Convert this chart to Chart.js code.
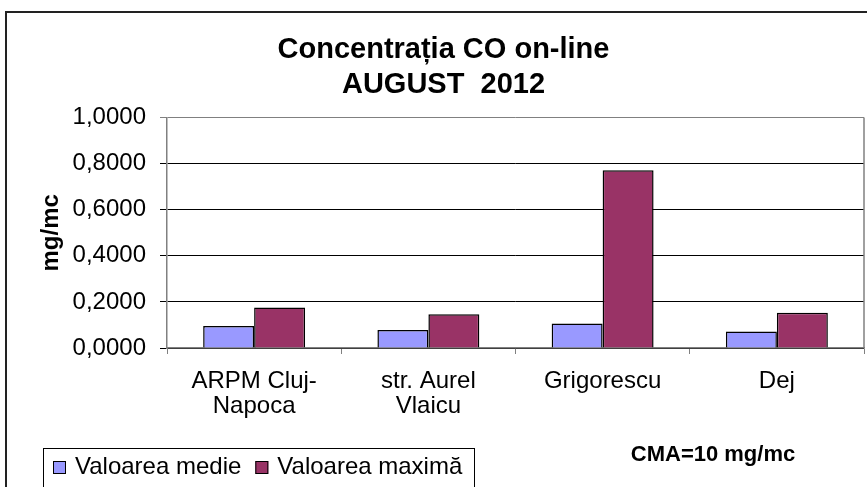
<!DOCTYPE html>
<html>
<head>
<meta charset="utf-8">
<script src="https://cdn.jsdelivr.net/npm/chart.js@4.4.1/dist/chart.umd.min.js"></script>
<style>
  html, body { margin: 0; padding: 0; background: #fff; }
  #wrap { width: 867px; height: 487px; }
</style>
</head>
<body>
<div id="wrap"><canvas id="graficCO" width="867" height="487"></canvas></div>
<script>
// date
const statii = [["ARPM Cluj-", "Napoca"], ["str. Aurel", "Vlaicu"], "Grigorescu", "Dej"];
const valoareMedie = [0.096, 0.078, 0.106, 0.072];
const valoareMaxima = [0.176, 0.146, 0.771, 0.153];
const titlu = ["Concentrația CO on-line", "AUGUST  2012"];
const notaCMA = "CMA=10 mg/mc";

const FONT = "Arial, 'Liberation Sans', sans-serif";

const formatVirgula = v => Number(v).toFixed(4).replace(".", ",");

// chenar exterior, rama zonei de plotare, legenda si nota CMA
const decor = {
    id: "decor",
    afterDraw(chart) {
        const c = chart.ctx;
        const a = chart.chartArea;
        c.save();
        // rama exterioara
        c.strokeStyle = "#222";
        c.lineWidth = 2;
        c.beginPath();
        c.moveTo(6, 500);
        c.lineTo(6, 12);
        c.lineTo(880, 12);
        c.stroke();

        // margine dreapta a zonei de plotare
        c.strokeStyle = "#808080";
        c.lineWidth = 1.5;
        c.beginPath();
        c.moveTo(a.right, a.top);
        c.lineTo(a.right, a.bottom);
        c.stroke();

        // legenda
        c.strokeStyle = "#000";
        c.lineWidth = 1;
        c.strokeRect(43.5, 448.5, 431, 60);
        c.font = "24px " + FONT;
        c.textBaseline = "middle";
        let x = 53;
        const y = 467;
        chart.data.datasets.forEach(ds => {
            c.fillStyle = ds.backgroundColor;
            c.fillRect(x, y - 6, 13, 13);
            c.strokeStyle = "#000";
            c.strokeRect(x + 0.5, y - 5.5, 12, 12);
            c.fillStyle = "#000";
            c.fillText(ds.label, x + 22, y);
            x += 22 + c.measureText(ds.label).width + 14;
        });

        // nota CMA
        c.font = "bold 22px " + FONT;
        c.textAlign = "center";
        c.fillText(notaCMA, 713, 455);
        c.restore();
    }
};

new Chart(document.getElementById("graficCO"), {
    type: "bar",
    data: {
        labels: statii,
        datasets: [
            {
                label: "Valoarea medie",
                data: valoareMedie,
                backgroundColor: "#9999FF",
                borderColor: "#000",
                borderWidth: 1.5
            },
            {
                label: "Valoarea maximă",
                data: valoareMaxima,
                backgroundColor: "#993366",
                borderColor: "#000",
                borderWidth: 1.5
            }
        ]
    },
    options: {
        responsive: false,
        animation: false,
        layout: { padding: { left: 23, right: 3, top: 10, bottom: 0 } },
        datasets: { bar: { categoryPercentage: 0.585, barPercentage: 1 } },
        plugins: {
            legend: { display: false },
            tooltip: { enabled: false },
            title: {
                display: true,
                text: titlu,
                color: "#000",
                font: { family: FONT, size: 29, weight: "bold", lineHeight: 1.2 },
                padding: { top: 23, bottom: 15 }
            }
        },
        scales: {
            x: {
                grid: { display: true, offset: true, drawOnChartArea: false, tickLength: 6, color: "#808080" },
                border: { color: "#808080", width: 1.5 },
                ticks: { color: "#000", padding: 15, font: { family: FONT, size: 24, lineHeight: 1.04 }, maxRotation: 0, autoSkip: false },
                afterFit: s => { s.height = 139; }
            },
            y: {
                min: 0,
                max: 1,
                grid: {
                    color: ctx => (ctx.tick && ctx.tick.value === 1 ? "#808080" : "#000"),
                    tickLength: 7,
                    lineWidth: 1
                },
                border: { color: "#808080", width: 1.5 },
                ticks: {
                    stepSize: 0.2,
                    color: "#000",
                    padding: 14,
                    font: { family: FONT, size: 24 },
                    callback: v => formatVirgula(v)
                },
                title: {
                    display: true,
                    text: "mg/mc",
                    color: "#000",
                    font: { family: FONT, size: 24, weight: "bold" },
                    padding: { top: 14, bottom: 0 }
                },
                afterFit: s => { s.width = 144; }
            }
        }
    },
    plugins: [decor]
});
</script>
</body>
</html>
